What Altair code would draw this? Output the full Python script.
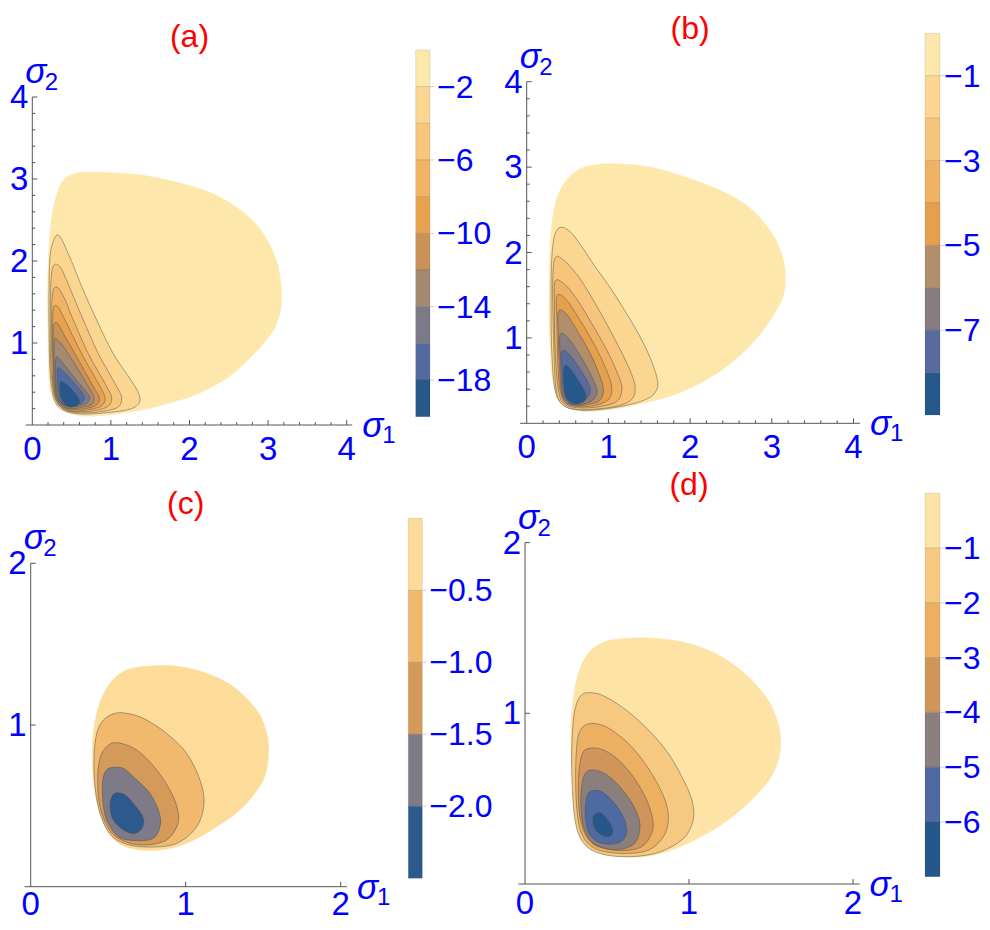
import altair as alt
import pandas as pd

BLUE = "#0000ff"
RED = "#ff0000"
AXIS = "#555555"
FONT = "Liberation Sans"

# ---------------- panel (a) -----------------
A_LEVELS = [0, -2, -4, -6, -8, -10, -12, -14, -16, -18, -20]
A_COLORS = ["#fde7ab", "#fbd691", "#f7c67b", "#f0b466", "#e9a350",
            "#ca9258", "#a58a72", "#7c7a88", "#536a9f", "#28578a"]
A_CB_TICKS = [-2, -6, -10, -14, -18]
A_OUTER = [(0.56, 3.07), (0.78, 3.08), (0.99, 3.075), (1.50, 3.03), (2.13, 2.88), (2.56, 2.68),
           (2.89, 2.40), (3.10, 2.02), (3.17, 1.62), (3.14, 1.32), (2.98, 1.04), (2.56, 0.63),
           (2.13, 0.39), (1.75, 0.27), (1.37, 0.18), (0.82, 0.11), (0.52, 0.13), (0.32, 0.25),
           (0.22, 0.47), (0.20, 1.12), (0.195, 1.73), (0.225, 2.34), (0.29, 2.74), (0.39, 2.98)]
A_M2 = [(0.331, 2.317), (0.458, 2.09), (0.628, 1.69), (0.819, 1.28), (1.03, 0.87), (1.307, 0.47),
        (1.37, 0.305), (1.307, 0.22), (1.16, 0.175), (0.946, 0.15), (0.734, 0.134), (0.522, 0.142),
        (0.352, 0.203), (0.268, 0.345), (0.225, 0.67), (0.212, 1.28), (0.217, 1.89), (0.246, 2.175)]
A_M4 = [(0.276, 1.95), (0.352, 1.93), (0.416, 1.81), (0.522, 1.57), (0.649, 1.28), (0.84, 0.87),
        (1.073, 0.47), (1.137, 0.33), (1.094, 0.22), (0.946, 0.175), (0.734, 0.15), (0.522, 0.155),
        (0.373, 0.21), (0.289, 0.345), (0.238, 0.67), (0.229, 1.28), (0.238, 1.77)]
A_M6 = [(0.276, 1.67), (0.331, 1.67), (0.416, 1.53), (0.522, 1.28), (0.713, 0.87), (0.946, 0.47),
        (1.01, 0.33), (0.967, 0.23), (0.82, 0.18), (0.607, 0.16), (0.437, 0.18), (0.331, 0.26),
        (0.268, 0.43), (0.246, 0.87), (0.246, 1.36), (0.255, 1.57)]
A_M8 = [(0.276, 1.443), (0.331, 1.435), (0.416, 1.28), (0.628, 0.87), (0.861, 0.47), (0.925, 0.33),
        (0.882, 0.235), (0.734, 0.19), (0.543, 0.17), (0.416, 0.2), (0.318, 0.28), (0.276, 0.47),
        (0.259, 0.87), (0.259, 1.28)]
A_M10 = [(0.28, 1.24), (0.331, 1.23), (0.395, 1.115), (0.543, 0.87), (0.776, 0.47), (0.853, 0.334),
         (0.818, 0.244), (0.691, 0.203), (0.522, 0.19), (0.403, 0.215), (0.318, 0.305), (0.28, 0.508),
         (0.267, 0.87), (0.267, 1.115)]
A_M12 = [(0.285, 1.037), (0.331, 1.028), (0.458, 0.87), (0.713, 0.47), (0.785, 0.337), (0.755, 0.25),
         (0.628, 0.215), (0.501, 0.2), (0.395, 0.23), (0.318, 0.325), (0.289, 0.508), (0.276, 0.79)]
A_M14 = [(0.30, 0.813), (0.352, 0.80), (0.458, 0.67), (0.628, 0.47), (0.725, 0.35), (0.70, 0.27),
         (0.585, 0.23), (0.471, 0.22), (0.373, 0.26), (0.318, 0.35), (0.297, 0.55)]
A_M16 = [(0.323, 0.691), (0.365, 0.68), (0.48, 0.57), (0.649, 0.37), (0.641, 0.28), (0.543, 0.24),
         (0.437, 0.24), (0.361, 0.285), (0.331, 0.43), (0.318, 0.59)]
A_M18 = [(0.361, 0.528), (0.416, 0.508), (0.522, 0.41), (0.598, 0.305), (0.573, 0.244), (0.501, 0.22),
         (0.43, 0.24), (0.373, 0.325), (0.352, 0.447)]

# ---------------- panel (b) -----------------
B_LEVELS = [0, -1, -2, -3, -4, -5, -6, -7, -8, -9]
B_COLORS = ["#fde7ab", "#fbd690", "#f6c47a", "#efb264", "#e6a04d",
            "#b28f6c", "#867d83", "#586b9c", "#27588b"]
B_CB_TICKS = [-1, -3, -5, -7]
B_OUTER = [(0.918, 3.035), (1.245, 3.03), (1.65, 2.97), (2.265, 2.77), (2.71, 2.54), (3.0, 2.227),
           (3.14, 1.914), (3.16, 1.60), (3.08, 1.367), (2.8, 0.977), (2.39, 0.625), (1.857, 0.352),
           (1.327, 0.215), (0.918, 0.148), (0.633, 0.148), (0.43, 0.234), (0.327, 0.47), (0.286, 0.86),
           (0.273, 1.445), (0.286, 2.03), (0.327, 2.46), (0.43, 2.77), (0.633, 2.97)]
B_M1 = [(0.408, 2.293), (0.53, 2.246), (0.673, 2.07), (0.837, 1.836), (1.04, 1.5625), (1.245, 1.25),
        (1.408, 0.977), (1.53, 0.723), (1.6, 0.508), (1.59, 0.39), (1.49, 0.293), (1.245, 0.215),
        (0.918, 0.164), (0.633, 0.155), (0.449, 0.215), (0.347, 0.39), (0.306, 0.86), (0.298, 1.445),
        (0.306, 1.914), (0.339, 2.1875)]
B_M2 = [(0.347, 1.934), (0.449, 1.914), (0.633, 1.719), (0.837, 1.406), (1.04, 1.055), (1.245, 0.664),
        (1.327, 0.43), (1.286, 0.28), (1.122, 0.205), (0.837, 0.165), (0.592, 0.165), (0.429, 0.225),
        (0.355, 0.43), (0.327, 1.055), (0.318, 1.64)]
B_M3 = [(0.347, 1.66), (0.449, 1.64), (0.592, 1.484), (0.796, 1.17), (1.0, 0.82), (1.143, 0.508),
        (1.163, 0.371), (1.102, 0.255), (0.918, 0.2), (0.673, 0.18), (0.469, 0.22), (0.388, 0.39),
        (0.347, 0.86), (0.339, 1.367)]
B_M4 = [(0.367, 1.484), (0.469, 1.465), (0.612, 1.27), (0.796, 0.977), (0.959, 0.664), (1.04, 0.43),
        (1.012, 0.29), (0.878, 0.22), (0.673, 0.195), (0.49, 0.235), (0.408, 0.39), (0.38, 0.742),
        (0.371, 1.17)]
B_M5 = [(0.388, 1.309), (0.478, 1.289), (0.612, 1.094), (0.776, 0.82), (0.898, 0.547), (0.939, 0.39),
        (0.898, 0.27), (0.776, 0.225), (0.592, 0.205), (0.469, 0.245), (0.42, 0.39), (0.396, 0.742),
        (0.388, 1.055)]
B_M6 = [(0.408, 1.035), (0.49, 1.016), (0.612, 0.859), (0.755, 0.625), (0.857, 0.41), (0.837, 0.30),
        (0.735, 0.235), (0.592, 0.215), (0.478, 0.26), (0.429, 0.41), (0.412, 0.742)]
B_M7 = [(0.429, 0.84), (0.51, 0.82), (0.633, 0.664), (0.755, 0.469), (0.776, 0.359), (0.694, 0.255),
        (0.571, 0.225), (0.478, 0.29), (0.441, 0.469), (0.429, 0.664)]
B_M8 = [(0.46, 0.664), (0.53, 0.64), (0.63, 0.50), (0.72, 0.35), (0.71, 0.27), (0.64, 0.235),
        (0.55, 0.245), (0.48, 0.31), (0.455, 0.47)]

# ---------------- panel (c) -----------------
C_LEVELS = [0, -0.5, -1.0, -1.5, -2.0, -2.5]
C_COLORS = ["#fddc9a", "#f1b96e", "#d39a59", "#7e7a88", "#2c5a8c"]
C_CB_TICKS = [-0.5, -1.0, -1.5, -2.0]
C_OUTER = [(0.781, 1.365), (0.963, 1.361), (1.135, 1.32), (1.308, 1.237), (1.458, 1.093), (1.523, 0.948),
           (1.533, 0.804), (1.5, 0.66), (1.372, 0.495), (1.2, 0.371), (1.006, 0.268), (0.834, 0.227),
           (0.662, 0.234), (0.533, 0.295), (0.447, 0.454), (0.404, 0.66), (0.4, 0.907), (0.437, 1.113),
           (0.512, 1.258), (0.619, 1.34)]
C_M05 = [(0.544, 1.072), (0.619, 1.072), (0.727, 1.041), (0.877, 0.948), (1.006, 0.825), (1.092, 0.66),
         (1.118, 0.515), (1.071, 0.371), (0.942, 0.268), (0.77, 0.245), (0.619, 0.262), (0.512, 0.325),
         (0.447, 0.454), (0.415, 0.619), (0.409, 0.804), (0.426, 0.948), (0.469, 1.031)]
C_M10 = [(0.555, 0.891), (0.684, 0.845), (0.813, 0.722), (0.91, 0.577), (0.953, 0.454), (0.942, 0.371),
         (0.877, 0.289), (0.748, 0.258), (0.619, 0.275), (0.512, 0.345), (0.447, 0.495), (0.432, 0.66),
         (0.447, 0.794), (0.49, 0.866)]
C_M15 = [(0.533, 0.738), (0.598, 0.732), (0.662, 0.68), (0.77, 0.577), (0.83, 0.454), (0.834, 0.371),
         (0.791, 0.299), (0.684, 0.285), (0.566, 0.309), (0.49, 0.412), (0.465, 0.536), (0.465, 0.66),
         (0.49, 0.722)]
C_M20 = [(0.555, 0.581), (0.609, 0.567), (0.662, 0.515), (0.723, 0.433), (0.723, 0.371), (0.673, 0.33),
         (0.598, 0.351), (0.533, 0.412), (0.512, 0.495), (0.523, 0.557)]

# ---------------- panel (d) -----------------
D_LEVELS = [0, -1, -2, -3, -4, -5, -6, -7]
D_COLORS = ["#fde3a5", "#f7c880", "#edb062", "#cf955a", "#8b7f7e", "#4f6aa0", "#26578a"]
D_CB_TICKS = [-1, -2, -3, -4, -5, -6]
D_OUTER = [(0.629, 1.439), (0.792, 1.439), (0.995, 1.41), (1.198, 1.332), (1.36, 1.215), (1.482, 1.078),
           (1.543, 0.941), (1.559, 0.805), (1.523, 0.668), (1.421, 0.531), (1.239, 0.375), (1.036, 0.258),
           (0.832, 0.18), (0.67, 0.156), (0.528, 0.18), (0.426, 0.258), (0.345, 0.414), (0.294, 0.629),
           (0.28, 0.883), (0.294, 1.078), (0.325, 1.234), (0.386, 1.352), (0.487, 1.42)]
D_M1 = [(0.386, 1.121), (0.467, 1.107), (0.589, 1.039), (0.732, 0.922), (0.874, 0.765), (0.986, 0.57),
        (1.026, 0.453), (1.02, 0.355), (0.955, 0.257), (0.793, 0.179), (0.589, 0.16), (0.427, 0.189),
        (0.345, 0.257), (0.305, 0.375), (0.288, 0.57), (0.284, 0.765), (0.295, 0.961), (0.315, 1.058),
        (0.345, 1.107)]
D_M2 = [(0.386, 0.937), (0.447, 0.937), (0.528, 0.902), (0.65, 0.804), (0.772, 0.648), (0.854, 0.492),
        (0.874, 0.375), (0.844, 0.277), (0.752, 0.198), (0.589, 0.179), (0.427, 0.208), (0.345, 0.296),
        (0.315, 0.453), (0.309, 0.668), (0.32, 0.843), (0.345, 0.912)]
D_M3 = [(0.396, 0.795), (0.467, 0.789), (0.559, 0.736), (0.66, 0.629), (0.742, 0.492), (0.779, 0.375),
        (0.772, 0.296), (0.711, 0.218), (0.589, 0.195), (0.447, 0.218), (0.376, 0.277), (0.335, 0.394),
        (0.325, 0.57), (0.335, 0.707), (0.356, 0.775)]
D_M4 = [(0.406, 0.668), (0.478, 0.652), (0.559, 0.59), (0.64, 0.492), (0.691, 0.394), (0.7, 0.316),
        (0.67, 0.24), (0.589, 0.204), (0.488, 0.21), (0.406, 0.248), (0.356, 0.336), (0.341, 0.453),
        (0.345, 0.57), (0.366, 0.645)]
D_M5 = [(0.417, 0.547), (0.467, 0.541), (0.538, 0.482), (0.599, 0.394), (0.62, 0.316), (0.599, 0.258),
        (0.538, 0.234), (0.457, 0.242), (0.396, 0.287), (0.37, 0.375), (0.37, 0.472), (0.386, 0.531)]
D_M6 = [(0.437, 0.414), (0.464, 0.414), (0.492, 0.39), (0.528, 0.339), (0.533, 0.296), (0.498, 0.277),
        (0.447, 0.301), (0.417, 0.346), (0.417, 0.394)]

# ---------------- layout (chart pixel coordinates) -----------------
PANELS = [
    dict(title="(a)", ox=24.3, oy=417.0, sx=78.6, sy=82.0, xlo=-0.08, xhi=4.07, yhi=4,
         xticks=[0, 1, 2, 3, 4], yticks=[1, 2, 3, 4], minor=True, title_dy=-50, xlab_dy=35,
         cbx=[407.7, 422.0], cby=[408.7, 42.0], levels=A_LEVELS, colors=A_COLORS,
         cbticks=A_CB_TICKS, dec=False, cb_dx=7,
         polys=[A_OUTER, A_M2, A_M4, A_M6, A_M8, A_M10, A_M12, A_M14, A_M16, A_M18]),
    dict(title="(b)", ox=518.7, oy=415.3, sx=81.7, sy=85.4, xlo=-0.08, xhi=4.08, yhi=4,
         xticks=[0, 1, 2, 3, 4], yticks=[1, 2, 3, 4], minor=True, title_dy=-43, xlab_dy=35,
         cbx=[917.0, 932.0], cby=[407.0, 25.3], levels=B_LEVELS, colors=B_COLORS,
         cbticks=B_CB_TICKS, dec=False, cb_dx=4,
         polys=[B_OUTER, B_M1, B_M2, B_M3, B_M4, B_M5, B_M6, B_M7, B_M8]),
    dict(title="(c)", ox=22.7, oy=878.7, sx=155.0, sy=161.7, xlo=-0.04, xhi=2.04, yhi=2,
         xticks=[0, 1, 2], yticks=[1, 2], minor=False, title_dy=-49, xlab_dy=28,
         cbx=[400.3, 414.3], cby=[870.3, 510.3], levels=C_LEVELS, colors=C_COLORS,
         cbticks=C_CB_TICKS, dec=True, cb_dx=7,
         polys=[C_OUTER, C_M05, C_M10, C_M15, C_M20]),
    dict(title="(d)", ox=517.0, oy=876.0, sx=164.0, sy=170.7, xlo=-0.04, xhi=2.04, yhi=2,
         xticks=[0, 1, 2], yticks=[1, 2], minor=False, title_dy=-48, xlab_dy=30,
         cbx=[917.0, 932.0], cby=[868.7, 485.3], levels=D_LEVELS, colors=D_COLORS,
         cbticks=D_CB_TICKS, dec=False, cb_dx=4,
         polys=[D_OUTER, D_M1, D_M2, D_M3, D_M4, D_M5, D_M6]),
]

LABEL_SIZE = 33
CB_LABEL_SIZE = 32
layers = []


def minus_label(v, dec):
    s = f"{abs(v):.1f}" if dec else f"{abs(v):g}"
    return ("\u2212" + s) if v < 0 else s


for P in PANELS:
    xs = alt.Scale(domain=[P["xlo"], P["xhi"]],
                   range=[P["ox"] + P["xlo"] * P["sx"], P["ox"] + P["xhi"] * P["sx"]],
                   nice=False, zero=False)
    ys = alt.Scale(domain=[0, P["yhi"]], range=[P["oy"], P["oy"] - P["yhi"] * P["sy"]],
                   nice=False, zero=False)

    def X(f):
        return alt.X(f, scale=xs, axis=None)

    def Y(f):
        return alt.Y(f, scale=ys, axis=None)

    # filled contour regions, outermost first
    for k, pts in enumerate(P["polys"]):
        df = pd.DataFrame({"x": [p[0] for p in pts], "y": [p[1] for p in pts],
                           "i": list(range(len(pts)))})
        col = P["colors"][k]
        if k == 0:
            mk = alt.Chart(df).mark_line(interpolate="cardinal-closed", fill=col, stroke=col,
                                         strokeWidth=0.5)
        else:
            mk = alt.Chart(df).mark_line(interpolate="cardinal-closed", fill=col, stroke="#4a4a4a",
                                         strokeOpacity=0.6, strokeWidth=0.8)
        layers.append(mk.encode(x=X("x:Q"), y=Y("y:Q"), order="i:Q"))

    # axis lines
    ax = pd.DataFrame({"x": [P["xlo"]], "x2": [P["xhi"]], "y": [0.0]})
    layers.append(alt.Chart(ax).mark_rule(color=AXIS, strokeWidth=1).encode(
        x=X("x:Q"), x2="x2:Q", y=Y("y:Q")))
    ay = pd.DataFrame({"x": [0.0], "y": [0.0], "y2": [float(P["yhi"])]})
    layers.append(alt.Chart(ay).mark_rule(color=AXIS, strokeWidth=1).encode(
        x=X("x:Q"), y=Y("y:Q"), y2="y2:Q"))

    # ticks (pointing inward)
    xt, yt = [], []
    n = int(round(P["xticks"][-1] / 0.2)) if P["minor"] else 0
    major_len, minor_len = 5.0, 3.0
    for t in P["xticks"][1:]:
        xt.append((t, major_len))
    for t in P["yticks"]:
        yt.append((t, major_len))
    if P["minor"]:
        for j in range(1, n):
            if j % 5:
                xt.append((j * 0.2, minor_len))
                yt.append((j * 0.2, minor_len))
    dxt = pd.DataFrame({"x": [a for a, _ in xt], "y": [0.0] * len(xt),
                        "y2": [L / P["sy"] for _, L in xt]})
    layers.append(alt.Chart(dxt).mark_rule(color=AXIS, strokeWidth=1).encode(
        x=X("x:Q"), y=Y("y:Q"), y2="y2:Q"))
    dyt = pd.DataFrame({"y": [a for a, _ in yt], "x": [0.0] * len(yt),
                        "x2": [L / P["sx"] for _, L in yt]})
    layers.append(alt.Chart(dyt).mark_rule(color=AXIS, strokeWidth=1).encode(
        x=X("x:Q"), x2="x2:Q", y=Y("y:Q")))

    # tick labels
    dxl = pd.DataFrame({"x": P["xticks"], "y": [0] * len(P["xticks"]),
                        "t": [str(v) for v in P["xticks"]]})
    layers.append(alt.Chart(dxl).mark_text(font=FONT, fontSize=LABEL_SIZE, color=BLUE, align="center",
                                           baseline="alphabetic", dy=P["xlab_dy"]).encode(
        x=X("x:Q"), y=Y("y:Q"), text="t:N"))
    dyl = pd.DataFrame({"y": P["yticks"], "x": [0] * len(P["yticks"]),
                        "t": [str(v) for v in P["yticks"]]})
    layers.append(alt.Chart(dyl).mark_text(font=FONT, fontSize=LABEL_SIZE, color=BLUE, align="right",
                                           baseline="middle", dx=-4, dy=1).encode(
        x=X("x:Q"), y=Y("y:Q"), text="t:N"))

    # axis symbols sigma_1, sigma_2
    s2 = pd.DataFrame({"x": [0.0], "y": [float(P["yhi"])], "t": ["\u03c3"], "s": ["2"]})
    layers.append(alt.Chart(s2).mark_text(font=FONT, fontSize=35, fontStyle="italic", color=BLUE,
                                          align="left", baseline="alphabetic", dx=-7, dy=-14).encode(
        x=X("x:Q"), y=Y("y:Q"), text="t:N"))
    layers.append(alt.Chart(s2).mark_text(font=FONT, fontSize=24, color=BLUE,
                                          align="left", baseline="alphabetic", dx=12.5, dy=-7).encode(
        x=X("x:Q"), y=Y("y:Q"), text="s:N"))
    s1 = pd.DataFrame({"x": [P["xhi"]], "y": [0.0], "t": ["\u03c3"], "s": ["1"]})
    layers.append(alt.Chart(s1).mark_text(font=FONT, fontSize=35, fontStyle="italic", color=BLUE,
                                          align="left", baseline="alphabetic", dx=10, dy=12).encode(
        x=X("x:Q"), y=Y("y:Q"), text="t:N"))
    layers.append(alt.Chart(s1).mark_text(font=FONT, fontSize=24, color=BLUE,
                                          align="left", baseline="alphabetic", dx=30, dy=18).encode(
        x=X("x:Q"), y=Y("y:Q"), text="s:N"))

    # panel title
    dtt = pd.DataFrame({"x": [P["xticks"][-1] / 2], "y": [float(P["yhi"])], "t": [P["title"]]})
    layers.append(alt.Chart(dtt).mark_text(font=FONT, fontSize=32, color=RED, align="center",
                                           baseline="alphabetic", dy=P["title_dy"]).encode(
        x=X("x:Q"), y=Y("y:Q"), text="t:N"))

    # colour bar
    lv = P["levels"]
    cxs = alt.Scale(domain=[0, 1], range=P["cbx"], nice=False, zero=False)
    cys = alt.Scale(domain=[lv[-1], lv[0]], range=P["cby"], nice=False, zero=False)
    cb = pd.DataFrame({"hi": lv[:-1], "lo": lv[1:], "c": P["colors"],
                       "a": [0] * len(P["colors"]), "b": [1] * len(P["colors"])})
    layers.append(alt.Chart(cb).mark_rect(stroke="#000000", strokeOpacity=0.12, strokeWidth=0.8).encode(
        x=alt.X("a:Q", scale=cxs, axis=None), x2="b:Q",
        y=alt.Y("lo:Q", scale=cys, axis=None), y2="hi:Q",
        fill=alt.Fill("c:N", scale=None)))
    ct = pd.DataFrame({"v": P["cbticks"], "a": [1] * len(P["cbticks"]),
                       "b": [1.3] * len(P["cbticks"]),
                       "t": [minus_label(v, P["dec"]) for v in P["cbticks"]]})
    layers.append(alt.Chart(ct).mark_rule(color="#d0d0d0", strokeWidth=1).encode(
        x=alt.X("a:Q", scale=cxs, axis=None), x2="b:Q", y=alt.Y("v:Q", scale=cys, axis=None)))
    layers.append(alt.Chart(ct).mark_text(font=FONT, fontSize=CB_LABEL_SIZE, color=BLUE, align="left",
                                          baseline="middle", dx=P["cb_dx"], dy=1).encode(
        x=alt.X("a:Q", scale=cxs, axis=None), y=alt.Y("v:Q", scale=cys, axis=None), text="t:N"))

chart = alt.layer(*layers).resolve_scale(x="independent", y="independent").properties(
    width=974, height=914, padding=0,
    autosize=alt.AutoSizeParams(type="none"),
).configure_view(strokeWidth=0)

chart.save("out.html", embed_options={"renderer": "svg", "actions": False})
